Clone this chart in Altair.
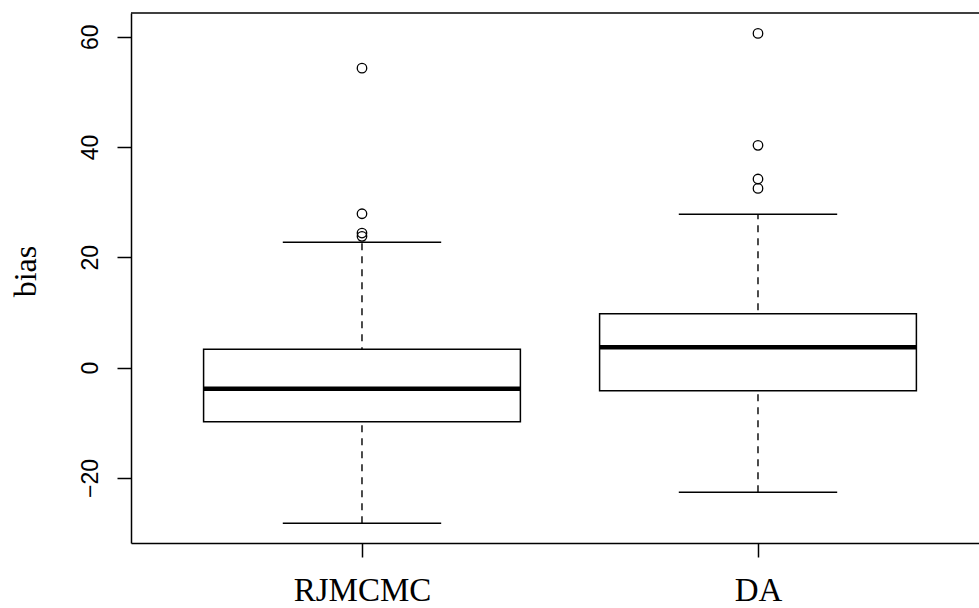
import json
import pandas as pd
import altair as alt

# ---- data ----
groups = ["RJMCMC", "DA"]
q1 = [-9.8, -4.2]
median = [-3.85, 3.7]
q3 = [3.35, 9.75]
whisker_low = [-28.2, -22.6]
whisker_high = [22.75, 27.8]
outliers_rjmcmc = [54.3, 27.9, 24.4, 23.8]
outliers_da = [60.6, 40.3, 34.2, 32.5]
y_ticks = [-20, 0, 20, 40, 60]

W, H = 848, 530

stats = pd.DataFrame({
    "group": groups,
    "pos": list(range(1, len(groups) + 1)),
    "q1": q1, "median": median, "q3": q3,
    "wlo": whisker_low, "whi": whisker_high,
})
out_vals = outliers_rjmcmc + outliers_da
out_pos = [1] * len(outliers_rjmcmc) + [2] * len(outliers_da)
outs = pd.DataFrame({"pos": out_pos, "value": out_vals})

xscale = alt.Scale(domain=[0.4167, 2.5581], nice=False, zero=False)
yscale = alt.Scale(domain=[-31.8, 64.3], nice=False, zero=False)

label_expr = f"{json.dumps(groups)}[datum.value - 1]"

xaxis = alt.Axis(values=[1, 2], labelExpr=label_expr, title="", grid=False,
                 domainColor="black", domainWidth=1.5, tickColor="black", tickWidth=1.5,
                 tickSize=14, labelFont="Liberation Serif", labelFontSize=33,
                 labelColor="black", labelBaseline="alphabetic", labelPadding=43,
                 labelAngle=0)
yaxis = alt.Axis(values=y_ticks, title="bias", grid=False,
                 domainColor="black", domainWidth=1.5, tickColor="black", tickWidth=1.5,
                 tickSize=14, labelFont="Liberation Sans", labelFontSize=23,
                 labelColor="black", labelAngle=270, labelAlign="center",
                 labelBaseline="alphabetic", labelPadding=20,
                 titleFont="Liberation Serif", titleFontSize=32, titleFontWeight="normal",
                 titleColor="black", titleAngle=270, titleAlign="center",
                 titleBaseline="alphabetic", titleX=-96, titleY=258)

base = alt.Chart(stats).transform_calculate(
    lo="datum.pos - 0.4", hi="datum.pos + 0.4",
    clo="datum.pos - 0.2", chi="datum.pos + 0.2",
)

whisk = base.mark_rule(color="black", strokeWidth=1.4, strokeDash=[7, 6]).encode(
    x=alt.X("pos:Q", scale=xscale, axis=xaxis),
    y=alt.Y("wlo:Q", scale=yscale, axis=yaxis),
    y2="whi:Q",
)
box = base.mark_rect(fill="white", stroke="black", strokeWidth=1.5).encode(
    x=alt.X("lo:Q", scale=xscale, axis=xaxis), x2="hi:Q",
    y=alt.Y("q1:Q", scale=yscale, axis=yaxis), y2="q3:Q",
)
med = base.mark_rule(color="black", strokeWidth=4.5).encode(
    x=alt.X("lo:Q", scale=xscale, axis=xaxis), x2="hi:Q",
    y=alt.Y("median:Q", scale=yscale, axis=yaxis),
)
cap_hi = base.mark_rule(color="black", strokeWidth=1.5).encode(
    x=alt.X("clo:Q", scale=xscale, axis=xaxis), x2="chi:Q",
    y=alt.Y("whi:Q", scale=yscale, axis=yaxis),
)
cap_lo = base.mark_rule(color="black", strokeWidth=1.5).encode(
    x=alt.X("clo:Q", scale=xscale, axis=xaxis), x2="chi:Q",
    y=alt.Y("wlo:Q", scale=yscale, axis=yaxis),
)
pts = alt.Chart(outs).mark_point(shape="circle", filled=False, size=90,
                                 strokeWidth=1.3, color="black", opacity=1).encode(
    x=alt.X("pos:Q", scale=xscale, axis=xaxis),
    y=alt.Y("value:Q", scale=yscale, axis=yaxis),
)
top = alt.Chart(pd.DataFrame({"a": [0]})).mark_rule(color="black", strokeWidth=1.5).encode(
    x=alt.value(0), x2=alt.value(W), y=alt.value(0)
)

chart = alt.layer(whisk, box, med, cap_hi, cap_lo, pts, top).properties(
    width=W, height=H,
    autosize=alt.AutoSizeParams(type="none"),
    padding={"left": 131, "top": 13, "right": 0, "bottom": 65},
    background="white",
).configure_view(stroke="transparent")

chart.save("out.html", embed_options={"renderer": "svg", "actions": False})
